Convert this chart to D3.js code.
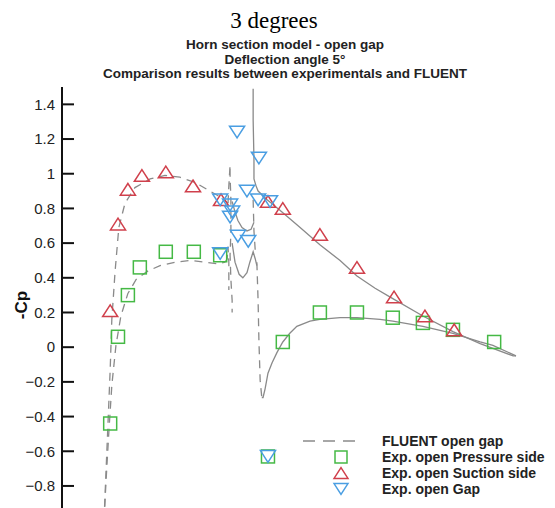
<!DOCTYPE html>
<html>
<head>
    <meta charset="utf-8">
    <title>Horn section model - open gap</title>
    <script src="https://d3js.org/d3.v7.min.js"></script>
    <style>
        body { margin: 0; background: #fff; }
        text { font-family: "Liberation Sans", Arial, sans-serif; }
    </style>
</head>
<body>
    <script>
        // Chart data (x in % of chord, value is -Cp)
        const titleLines = ["Horn section model - open gap", "Deflection angle 5\u00b0", "Comparison results between experimentals and FLUENT"];
        const yTicks = [1.4, 1.2, 1, 0.8, 0.6, 0.4, 0.2, 0, -0.2, -0.4, -0.6, -0.8];

        const expPressure = [[1.5, -0.44], [3.4, 0.06], [5.8, 0.30], [8.7, 0.46], [15.0, 0.55], [21.8, 0.55], [28.2, 0.53],
            [39.8, -0.63], [43.4, 0.03], [52.4, 0.20], [61.4, 0.20], [70.1, 0.17], [77.4, 0.14], [84.7, 0.10], [94.7, 0.03]];
        const expSuction = [[1.5, 0.21], [3.4, 0.71], [5.8, 0.91], [9.2, 0.99], [15.0, 1.01], [21.6, 0.93], [28.4, 0.85],
            [39.8, 0.84], [43.4, 0.80], [52.4, 0.65], [61.4, 0.46], [70.4, 0.29], [77.9, 0.18], [85.0, 0.10]];
        const expGap = [[32.3, 1.24], [37.6, 1.09], [34.7, 0.90], [37.4, 0.85], [40.3, 0.84], [28.2, 0.85], [30.6, 0.82],
            [31.1, 0.78], [30.6, 0.75], [32.5, 0.64], [35.0, 0.61], [28.2, 0.54], [39.8, -0.63]];

        // FLUENT open gap, dashed parts
        const fluentSuctionFwd = [[0, -1.0], [0.5, -0.71], [1.0, -0.42], [1.5, -0.13], [1.9, 0.16], [2.7, 0.44], [3.6, 0.69],
            [5.1, 0.83], [7.5, 0.92], [11.2, 0.97], [14.8, 0.99], [18.4, 0.98], [22.1, 0.95], [25.7, 0.90], [28.6, 0.86], [30.1, 0.83]];
        const fluentPressureFwd = [[0, -1.0], [0.5, -0.77], [1.2, -0.48], [1.9, -0.22], [2.9, 0.01], [4.1, 0.18], [5.8, 0.31],
            [7.8, 0.39], [10.7, 0.44], [13.6, 0.47], [17.2, 0.49], [20.9, 0.50], [24.5, 0.49], [27.7, 0.48], [29.4, 0.49]];
        const fluentGapDashed = [
            [[30.1, 0.83], [30.3, 0.93], [30.6, 1.05], [30.6, 0.99], [30.8, 0.85], [30.8, 0.67], [30.6, 0.53], [30.8, 0.39], [31.1, 0.27], [31.1, 0.20]],
            [[29.4, 0.49], [29.9, 0.51], [30.1, 0.58], [30.3, 0.49], [30.3, 0.33]],
            [[36.2, 0.85], [36.4, 0.67], [36.7, 0.56]],
            [[37.1, 0.49], [37.4, 0.27], [37.6, 0.04], [37.9, -0.19], [38.3, -0.29]]
        ];
        // FLUENT open gap, solid parts
        const fluentGapSolid = [
            [[31.1, 0.84], [31.8, 0.78], [32.5, 0.73], [33.5, 0.69], [34.7, 0.67], [35.7, 0.68], [36.4, 0.72]],
            [[31.1, 0.60], [31.8, 0.49], [32.8, 0.42], [33.7, 0.40], [34.7, 0.43], [35.4, 0.49], [36.2, 0.55], [36.7, 0.51], [37.1, 0.47]]
        ];
        const fluentSuctionAft = [[36.2, 1.49], [36.2, 1.31], [36.4, 1.08], [36.4, 0.97], [36.9, 0.93], [37.4, 0.90], [39.6, 0.85],
            [42.7, 0.79], [47.6, 0.69], [52.4, 0.59], [57.3, 0.50], [61.4, 0.41], [65.8, 0.34], [70.1, 0.28], [77.4, 0.18],
            [84.7, 0.09], [91.3, 0.02], [99.3, -0.05], [100, -0.05]];
        const fluentPressureAft = [[38.3, -0.29], [38.6, -0.29], [39.1, -0.24], [39.8, -0.15], [40.8, -0.09], [42.0, -0.03],
            [43.4, 0.03], [45.1, 0.08], [46.8, 0.12], [50.0, 0.15], [52.4, 0.16], [57.3, 0.17], [61.4, 0.17], [67.0, 0.16],
            [70.1, 0.15], [77.4, 0.12], [84.7, 0.08], [91.3, 0.03], [94.4, 0.01], [100, -0.05]];

        const legendItems = [
            { label: "FLUENT open gap", type: "line" },
            { label: "Exp. open Pressure side", type: "square" },
            { label: "Exp. open Suction side", type: "up" },
            { label: "Exp. open Gap", type: "down" }
        ];

        const colors = { square: "#45b945", up: "#d0404c", down: "#4a9ee2", line: "#8a8a8a" };

        const width = 555, height = 508;
        const svg = d3.select("body").append("svg")
            .attr("width", width)
            .attr("height", height);

        const x = d3.scaleLinear().domain([0, 100]).range([104, 516]);
        const y = d3.scaleLinear().domain([-0.93, 1.5]).range([508.5, 87]);

        // Titles
        svg.append("text")
            .attr("x", 274).attr("y", 28)
            .attr("text-anchor", "middle")
            .style("font-family", "'Liberation Serif', 'Times New Roman', serif")
            .style("font-size", "23px")
            .text("3 degrees");

        svg.selectAll(".title")
            .data(titleLines)
            .enter().append("text")
            .attr("class", "title")
            .attr("x", 285)
            .attr("y", (d, i) => 49 + i * 14.5)
            .attr("text-anchor", "middle")
            .style("font-size", "13.5px")
            .style("font-weight", "bold")
            .style("fill", "#222")
            .text(d => d);

        // Clip for curves
        svg.append("clipPath").attr("id", "plot")
            .append("rect").attr("x", 62).attr("y", 87).attr("width", 490).attr("height", 421);

        const line = d3.line().x(d => x(d[0])).y(d => y(d[1]));
        const curves = svg.append("g").attr("clip-path", "url(#plot)")
            .style("fill", "none")
            .style("stroke", colors.line)
            .style("stroke-width", 1.3);

        [fluentSuctionFwd, fluentPressureFwd].concat(fluentGapDashed).forEach(c => {
            curves.append("path").attr("d", line(c)).attr("stroke-dasharray", "8,6");
        });
        fluentGapSolid.concat([fluentSuctionAft, fluentPressureAft]).forEach(c => {
            curves.append("path").attr("d", line(c));
        });

        // Marker shapes
        function marker(g, type, s) {
            if (type === "square") {
                g.append("rect").attr("x", -s / 2).attr("y", -s / 2).attr("width", s).attr("height", s)
                    .style("stroke", colors.square);
            } else if (type === "up") {
                const h = s * 0.9;
                g.append("path").attr("d", `M0,${-h / 2}L${s * 0.58},${h / 2}L${-s * 0.58},${h / 2}Z`)
                    .style("stroke", colors.up);
            } else {
                const h = s * 0.9;
                g.append("path").attr("d", `M0,${h / 2}L${s * 0.58},${-h / 2}L${-s * 0.58},${-h / 2}Z`)
                    .style("stroke", colors.down);
            }
        }

        const markers = svg.append("g").style("fill", "none").style("stroke-width", 1.5);
        [[expPressure, "square"], [expSuction, "up"], [expGap, "down"]].forEach(([data, type]) => {
            data.forEach(d => {
                const g = markers.append("g").attr("transform", `translate(${x(d[0])},${y(d[1])})`);
                marker(g, type, 13);
            });
        });

        // Y axis with inward ticks
        const axis = svg.append("g").attr("transform", "translate(62,0)");
        axis.append("line").attr("x1", 0).attr("x2", 0).attr("y1", 87).attr("y2", 508)
            .style("stroke", "#111").style("stroke-width", 2);
        const ticks = axis.selectAll(".tick").data(yTicks).enter().append("g")
            .attr("class", "tick")
            .attr("transform", d => `translate(0,${y(d)})`);
        ticks.append("line").attr("x1", 0).attr("x2", 12)
            .style("stroke", "#111").style("stroke-width", 2);
        ticks.append("text")
            .attr("x", -7).attr("dy", "0.35em")
            .attr("text-anchor", "end")
            .style("font-size", "15px")
            .style("fill", "#222")
            .text(d => d3.format("")(Math.round(d * 10) / 10));

        svg.append("text")
            .attr("transform", "translate(27,305) rotate(-90)")
            .attr("text-anchor", "middle")
            .style("font-size", "17px")
            .style("font-weight", "bold")
            .style("fill", "#111")
            .text("-Cp");

        // Legend
        const legend = svg.append("g");
        legendItems.forEach((item, i) => {
            const cy = 441 + i * 16;
            if (item.type === "line") {
                legend.append("line").attr("x1", 303).attr("x2", 362).attr("y1", cy).attr("y2", cy)
                    .style("stroke", colors.line).style("stroke-width", 1.3).attr("stroke-dasharray", "12,8");
            } else {
                const g = legend.append("g").attr("transform", `translate(341,${cy})`)
                    .style("fill", "none").style("stroke-width", 1.5);
                marker(g, item.type, 12);
            }
            legend.append("text")
                .attr("x", 382).attr("y", cy + 5)
                .style("font-size", "14px")
                .style("font-weight", "bold")
                .style("fill", "#222")
                .text(item.label);
        });
    </script>
</body>
</html>
